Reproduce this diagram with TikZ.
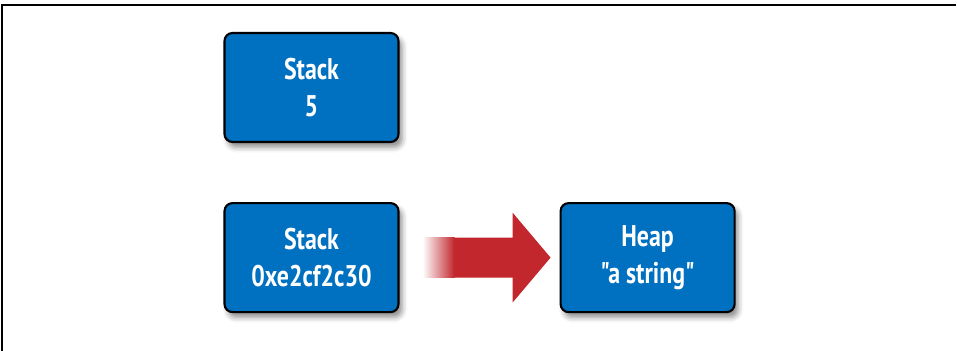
\documentclass[tikz,border=0pt]{standalone}
\usepackage{fontspec}
\setmainfont{PT Sans}[FakeStretch=0.8, Ligatures=TeXOff]
\usetikzlibrary{positioning,calc,shadows.blur}

\definecolor{boxblue}{RGB}{0,112,192}
\definecolor{arrowred}{RGB}{193,39,45}

\tikzset{
  mem/.style={draw=black, line width=1.2pt, fill=boxblue, rounded corners=0.16cm,
    minimum width=3.48cm, minimum height=2.18cm, align=center, text=white,
    font=\bfseries\fontsize{17}{21.5}\selectfont,
    blur shadow={shadow xshift=2pt, shadow yshift=-3pt, shadow blur radius=3pt, shadow opacity=45}},
}

\begin{document}
\begin{tikzpicture}
  \useasboundingbox (0,0) rectangle (19.14,7.02);
  % frame
  \draw[line width=0.8pt] (0.04,0) -- (0.04,6.92) -- (19.12,6.92);

  \node[mem] (s1) at (6.23,5.27) {Stack\\5};
  \node[mem, below=1.18cm of s1] (s2) {Stack\\0xe2cf2c30};
  \node[mem, right=3.2cm of s2] (heap) {Heap\\"a string"};

  % the reference arrow
  \coordinate (tail) at ($(s2.east)+(0.46,0)$);
  \coordinate (tip) at ($(heap.west)+(-0.18,0)$);
  \shade[left color=white, right color=arrowred] ($(tail)+(0,0.4)$) rectangle ($(tail)+(0.64,-0.4)$);
  \fill[arrowred] ($(tail)+(0.62,0.4)$) -- ($(tip)+(-0.76,0.4)$) -- ($(tip)+(-0.76,0.9)$) -- (tip)
    -- ($(tip)+(-0.76,-0.9)$) -- ($(tip)+(-0.76,-0.4)$) -- ($(tail)+(0.62,-0.4)$) -- cycle;
\end{tikzpicture}
\end{document}
